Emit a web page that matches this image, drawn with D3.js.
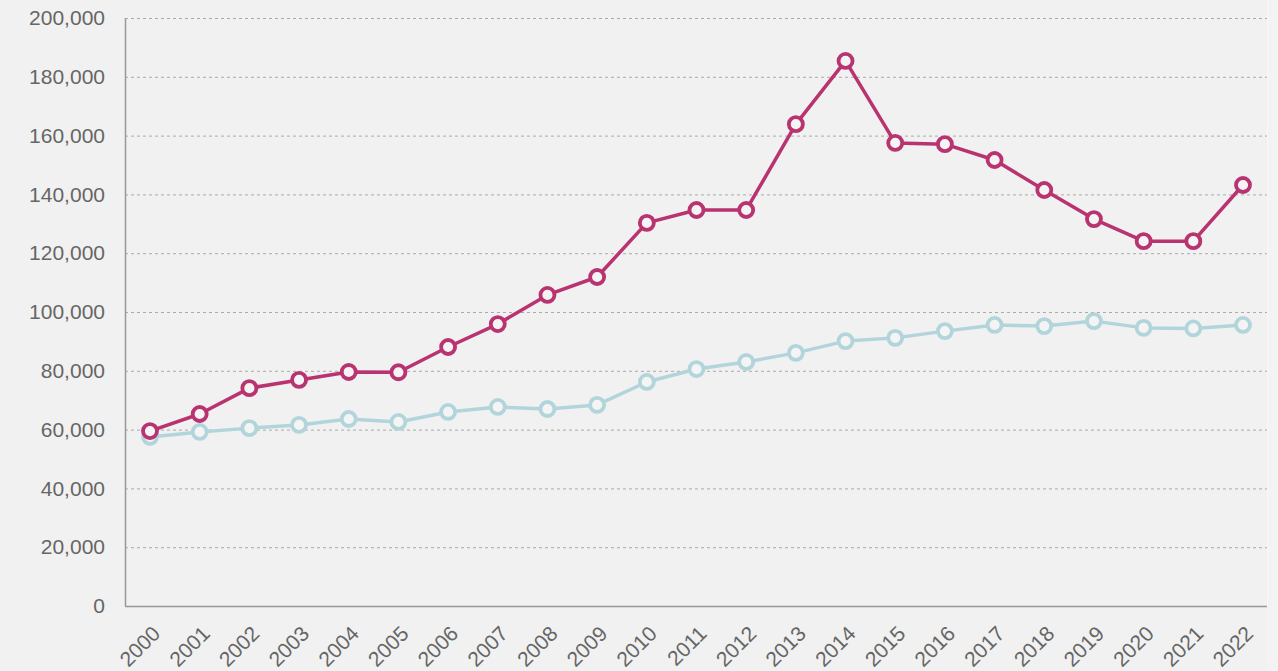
<!DOCTYPE html>
<html>
<head>
<meta charset="utf-8">
<script src="https://cdn.jsdelivr.net/npm/d3@7"></script>
<style>
  body { margin: 0; background: #f1f1f1; }
  .tick text { font-family: "Liberation Sans", Arial, sans-serif; font-size: 21px; fill: #666; }
</style>
</head>
<body>
<div id="chart"></div>
<script>
const width = 1278,
    height = 671,
    margin = { top: 18, right: 11, bottom: 65, left: 125 };

const years = d3.range(2000, 2023);
const pinkValues = [59500, 65300, 74100, 76900, 79600, 79500, 88100, 95900, 105800, 111900,
    130300, 134700, 134700, 163900, 185400, 157500, 157100, 151700, 141500, 131600,
    124100, 124100, 143200];
const blueValues = [57500, 59200, 60500, 61600, 63600, 62600, 66000, 67700, 67000, 68400,
    76200, 80600, 83000, 86100, 90100, 91200, 93500, 95600, 95200, 96900,
    94600, 94400, 95600];
const yTicks = d3.range(0, 200001, 20000);

const svg = d3.select('#chart')
    .append('svg')
    .attr('width', width)
    .attr('height', height);

svg.append('rect')
    .attr('width', width).attr('height', height)
    .attr('fill', '#f3f3f3');
svg.append('rect')
    .attr('width', width - margin.right).attr('height', height)
    .attr('fill', '#f1f1f1');
svg.append('line')
    .attr('x1', width - margin.right + 0.5).attr('x2', width - margin.right + 0.5)
    .attr('y1', 0).attr('y2', height - margin.bottom)
    .attr('stroke', '#f8f8f8');

const xScale = d3.scalePoint()
    .domain(years)
    .range([150, 1243]);

const yScale = d3.scaleLinear()
    .domain([0, 200000])
    .range([height - margin.bottom, margin.top]);

// grid lines
svg.append('g')
    .selectAll('line')
    .data(yTicks.slice(1))
    .enter()
    .append('line')
    .attr('x1', margin.left)
    .attr('x2', width - margin.right)
    .attr('y1', d => yScale(d) + 0.5)
    .attr('y2', d => yScale(d) + 0.5)
    .attr('stroke', '#aaa')
    .attr('stroke-width', 1)
    .attr('stroke-dasharray', '3,3');

// axes
const yAxis = d3.axisLeft(yScale)
    .tickValues(yTicks)
    .tickFormat(d3.format(','))
    .tickSize(0)
    .tickPadding(20);

const yAxisG = svg.append('g')
    .attr('transform', 'translate(' + margin.left + ',0)')
    .call(yAxis);
yAxisG.select('.domain').remove();

const xAxis = d3.axisBottom(xScale)
    .tickSize(0)
    .tickPadding(0);

const xAxisG = svg.append('g')
    .attr('transform', 'translate(0,' + (height - margin.bottom) + ')')
    .call(xAxis);
xAxisG.select('.domain').remove();
xAxisG.selectAll('text')
    .attr('text-anchor', 'end')
    .attr('dy', null)
    .attr('y', 0)
    .attr('transform', 'translate(11,29) rotate(-45)');

// axis lines
svg.append('line')
    .attr('x1', margin.left + 0.5).attr('x2', margin.left + 0.5)
    .attr('y1', margin.top).attr('y2', height - margin.bottom)
    .attr('stroke', '#999').attr('stroke-width', 1.5);
svg.append('line')
    .attr('x1', margin.left).attr('x2', width - margin.right)
    .attr('y1', height - margin.bottom + 0.5).attr('y2', height - margin.bottom + 0.5)
    .attr('stroke', '#999').attr('stroke-width', 1.5);

const line = d3.line()
    .x((d, i) => xScale(years[i]))
    .y(d => yScale(d));

const drawSeries = (values, color) => {
    svg.append('path')
        .datum(values)
        .attr('fill', 'none')
        .attr('stroke', color)
        .attr('stroke-width', 3.5)
        .attr('stroke-linejoin', 'round')
        .attr('d', line);

    svg.append('g')
        .selectAll('circle')
        .data(values)
        .enter()
        .append('circle')
        .attr('cx', (d, i) => xScale(years[i]))
        .attr('cy', d => yScale(d))
        .attr('r', 7)
        .attr('fill', '#f4f4f4')
        .attr('stroke', color)
        .attr('stroke-width', 3.8);
};

drawSeries(blueValues, '#b2d5dc');
drawSeries(pinkValues, '#b8336f');
</script>
</body>
</html>
